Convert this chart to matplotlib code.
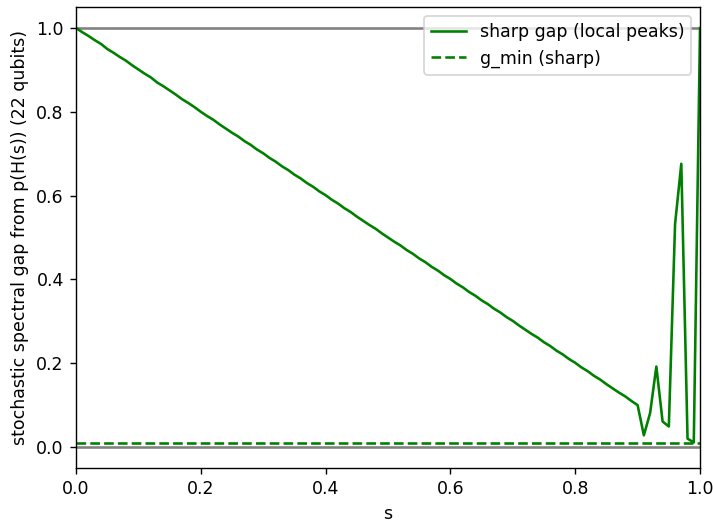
import matplotlib
matplotlib.use("Agg")
import matplotlib.pyplot as plt
import numpy as np

# schedule points s = 0.00 ... 1.00, step 0.01
s = np.round(np.arange(0, 101) * 0.01, 2)

# sharp gap
gap = [1.000, 0.990, 0.981, 0.971, 0.962, 0.950, 0.941, 0.931, 0.922, 0.911,
       0.901, 0.891, 0.882, 0.870, 0.861, 0.851, 0.841, 0.830, 0.821, 0.811,
       0.800, 0.790, 0.781, 0.770, 0.760, 0.750, 0.741, 0.730, 0.721, 0.710,
       0.701, 0.690, 0.681, 0.670, 0.661, 0.650, 0.641, 0.630, 0.621, 0.610,
       0.601, 0.590, 0.581, 0.570, 0.561, 0.550, 0.540, 0.530, 0.521, 0.510,
       0.500, 0.490, 0.481, 0.470, 0.461, 0.450, 0.441, 0.430, 0.421, 0.410,
       0.401, 0.390, 0.381, 0.370, 0.361, 0.350, 0.341, 0.330, 0.321, 0.310,
       0.301, 0.290, 0.280, 0.270, 0.261, 0.250, 0.241, 0.230, 0.221, 0.210,
       0.201, 0.190, 0.181, 0.170, 0.161, 0.150, 0.140, 0.130, 0.121, 0.110,
       0.100, 0.028, 0.081, 0.192, 0.061, 0.049, 0.532, 0.676, 0.020, 0.011,
       1.000]
g_min = 0.01

dpi = 125
fig = plt.figure(figsize=(713 / dpi, 525 / dpi), dpi=dpi)
ax = fig.add_axes([0.1066, 0.1086, 0.8752, 0.878])

ax.axhline(0, color="gray")
ax.axhline(1, color="gray")
ax.plot(s, gap, color="green", label="sharp gap (local peaks)")
ax.axhline(g_min, color="green", linestyle="--", label="g_min (sharp)")

ax.set_xlim(0, 1)
ax.set_ylim(-0.05, 1.05)
ax.set_xlabel("s")
ax.set_ylabel("stochastic spectral gap from p(H(s)) (22 qubits)")
ax.legend(loc="upper right")

fig.savefig("out.png", dpi=dpi)
